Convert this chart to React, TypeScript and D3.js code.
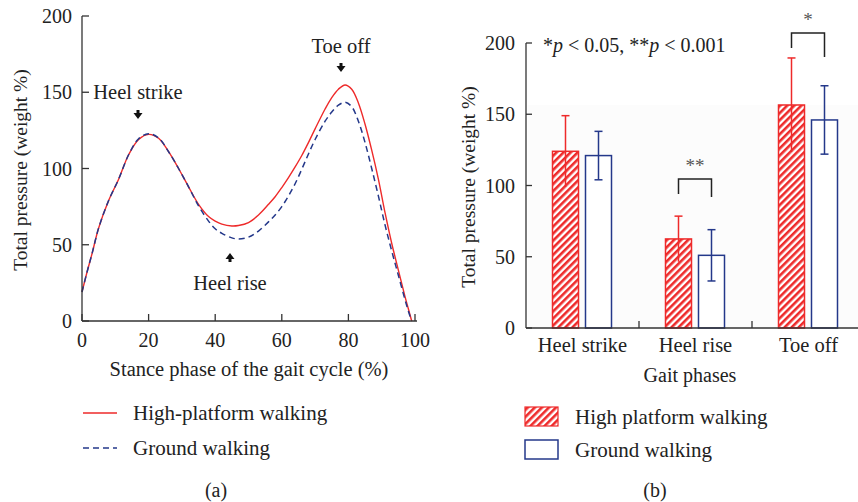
import React from 'react';
import * as d3 from 'd3';

// ---- data ----
const stanceX = [0, 1.5, 3, 5, 8, 11, 14, 17, 20, 23, 26, 29, 32, 35, 38, 40, 42, 45, 47, 50, 53, 56, 58, 60, 62, 64, 66, 68, 70, 73, 75, 77, 79, 81, 83, 85, 87, 89, 91, 93, 95, 97, 98, 99];
const highPlatformCurve = [19, 32, 44, 61, 79, 93, 109, 119, 122.4, 119.8, 111, 100, 88, 76.5, 68.5, 65.5, 63.5, 62.3, 62.6, 64.5, 69.5, 76.5, 81.5, 87.5, 94, 101, 108.5, 117, 126, 139, 146.5, 152, 154.8, 152, 143, 129, 112, 93, 71, 51, 33.4, 16, 8, 0];
const groundCurve = [19, 32, 44, 61, 79, 93, 109, 119.5, 122.8, 120, 111, 100, 88, 75.5, 65.5, 60.5, 57.5, 54.5, 53.8, 55, 59, 65, 69.5, 75, 82, 90, 99.5, 109.5, 119, 131, 137, 141.5, 143.4, 140.5, 131, 117, 100, 82, 63, 46, 30, 14, 6.5, 0];

const phases = ['Heel strike', 'Heel rise', 'Toe off'];
const groups = ['High platform walking', 'Ground walking'];
const highMeans = [124, 62.5, 156.5];
const highSD = [25, 16, 33];
const groundMeans = [121, 51, 146];
const groundSD = [17, 18, 24];

const yTicks = [0, 50, 100, 150, 200];
const xTicks = [0, 20, 40, 60, 80, 100];

const RED = '#ee2a2a';
const BLUE = '#24388a';
const AXIS = '#333';
const INK = '#222';
const FONT = '"Liberation Serif", "Times New Roman", serif';

export default function App() {
  // left panel scales
  const xL = d3.scaleLinear().domain([0, 100]).range([82, 415]);
  const yL = d3.scaleLinear().domain([0, 200]).range([321, 16]);
  const line = d3.line<number>()
    .x((d, i) => xL(stanceX[i]))
    .y(d => yL(d))
    .curve(d3.curveCatmullRom.alpha(0.5));

  // right panel scales
  const xR = d3.scaleBand().domain(phases).range([526, 865]);
  const x1 = d3.scaleBand().domain(groups).range([-30, 29]).paddingInner(0.212);
  const yR = d3.scaleLinear().domain([0, 200]).range([328, 43]);
  const bw = x1.bandwidth();

  const means = [highMeans, groundMeans];
  const sds = [highSD, groundSD];

  const brackets = [
    { phase: 'Heel rise', top: 179, legL: 194, legR: 197, label: '**' },
    { phase: 'Toe off', top: 33, legL: 48, legR: 57, label: '*' },
  ];

  return (
    <svg width={858} height={502} style={{ position: 'absolute', left: 0, top: 0, fontFamily: FONT }}>
      <defs>
        <pattern id="hatch" width={5} height={5} patternUnits="userSpaceOnUse" patternTransform="rotate(45)">
          <rect width={5} height={5} fill="#fff" />
          <rect width={2.6} height={5} fill={RED} />
        </pattern>
      </defs>
      <rect width={858} height={502} fill="#fff" />

      {/* ---------- panel (a) ---------- */}
      <path d={line(highPlatformCurve) || ''} fill="none" stroke={RED} strokeWidth={1.4} />
      <path d={line(groundCurve) || ''} fill="none" stroke={BLUE} strokeWidth={1.5} strokeDasharray="6,4" />

      <line x1={82} x2={82} y1={16} y2={321} stroke={AXIS} strokeWidth={1.3} />
      <line x1={82} x2={417} y1={321} y2={321} stroke={AXIS} strokeWidth={1.3} />
      {yTicks.map(t => (
        <g key={'yl' + t}>
          <line x1={82} x2={89} y1={yL(t)} y2={yL(t)} stroke={AXIS} strokeWidth={1.3} />
          <text x={72} y={yL(t)} dy="0.35em" textAnchor="end" fontSize={20} fill={INK}>{t}</text>
        </g>
      ))}
      {xTicks.map(t => (
        <g key={'xl' + t}>
          <line x1={xL(t)} x2={xL(t)} y1={321} y2={314} stroke={AXIS} strokeWidth={1.3} />
          <text x={xL(t)} y={340} dy="0.35em" textAnchor="middle" fontSize={20} fill={INK}>{t}</text>
        </g>
      ))}
      <text transform="translate(20,170) rotate(-90)" textAnchor="middle" dy="0.35em" fontSize={19.5} fill={INK}>Total pressure (weight %)</text>
      <text x={249} y={369} dy="0.35em" textAnchor="middle" fontSize={20.5} fill={INK}>Stance phase of the gait cycle (%)</text>

      {/* annotations */}
      <text x={138} y={92} dy="0.35em" textAnchor="middle" fontSize={20.5} fill={INK}>Heel strike</text>
      <path d="M138,119 L133.5,113 L136.5,113 L136.5,110 L139.5,110 L139.5,113 L142.5,113 Z" fill="#111" />
      <text x={341} y={46} dy="0.35em" textAnchor="middle" fontSize={20.5} fill={INK}>Toe off</text>
      <path d="M341,72 L336.5,66 L339.5,66 L339.5,63 L342.5,63 L342.5,66 L345.5,66 Z" fill="#111" />
      <text x={230} y={283} dy="0.35em" textAnchor="middle" fontSize={20.5} fill={INK}>Heel rise</text>
      <path d="M230,253 L225.5,259 L228.5,259 L228.5,262 L231.5,262 L231.5,259 L234.5,259 Z" fill="#111" />

      {/* legend (a) */}
      <line x1={83} x2={117} y1={413} y2={413} stroke={RED} strokeWidth={1.5} />
      <text x={133} y={413} dy="0.35em" fontSize={21} fill={INK}>High-platform walking</text>
      <line x1={83} x2={117} y1={448} y2={448} stroke={BLUE} strokeWidth={1.5} strokeDasharray="6,4" />
      <text x={133} y={448} dy="0.35em" fontSize={21} fill={INK}>Ground walking</text>
      <text x={216} y={490} dy="0.35em" textAnchor="middle" fontSize={20} fill={INK}>(a)</text>

      {/* ---------- panel (b) ---------- */}
      <rect x={528} y={105} width={330} height={222} fill="#fcfcfc" />
      {phases.map((p, i) => {
        const c = (xR(p) || 0) + xR.bandwidth() / 2;
        return groups.map((g, k) => {
          const x0 = c + (x1(g) || 0);
          const m = means[k][i];
          const sd = sds[k][i];
          const col = k === 0 ? RED : BLUE;
          const cx = x0 + bw / 2;
          return (
            <g key={p + g}>
              <rect x={x0} y={yR(m)} width={bw} height={yR(0) - yR(m)}
                fill={k === 0 ? 'url(#hatch)' : '#fff'} stroke={col} strokeWidth={1.5} />
              <line x1={cx} x2={cx} y1={yR(m + sd)} y2={yR(m - sd)} stroke={col} strokeWidth={1.5} />
              <line x1={cx - 4} x2={cx + 4} y1={yR(m + sd)} y2={yR(m + sd)} stroke={col} strokeWidth={1.5} />
              {k === 1 && (
                <line x1={cx - 4} x2={cx + 4} y1={yR(m - sd)} y2={yR(m - sd)} stroke={col} strokeWidth={1.5} />
              )}
            </g>
          );
        });
      })}

      <line x1={526} x2={526} y1={43} y2={328} stroke={AXIS} strokeWidth={1.3} />
      <line x1={526} x2={858} y1={328} y2={328} stroke={AXIS} strokeWidth={1.3} />
      {yTicks.map(t => (
        <g key={'yr' + t}>
          <line x1={526} x2={532} y1={yR(t)} y2={yR(t)} stroke={AXIS} strokeWidth={1.3} />
          <text x={515} y={yR(t)} dy="0.35em" textAnchor="end" fontSize={20} fill={INK}>{t}</text>
        </g>
      ))}
      {phases.slice(1).map(p => (
        <line key={'sep' + p} x1={xR(p) || 0} x2={xR(p) || 0} y1={328} y2={321} stroke={AXIS} strokeWidth={1.3} />
      ))}
      {phases.map(p => (
        <text key={'cl' + p} x={(xR(p) || 0) + xR.bandwidth() / 2} y={345} dy="0.35em" textAnchor="middle" fontSize={20.5} fill={INK}>{p}</text>
      ))}
      <text transform="translate(468,187) rotate(-90)" textAnchor="middle" dy="0.35em" fontSize={19.5} fill={INK}>Total pressure (weight %)</text>
      <text x={690} y={375} dy="0.35em" textAnchor="middle" fontSize={20} fill={INK}>Gait phases</text>

      <text x={543} y={45} dy="0.35em" fontSize={20} fill={INK}>
        *<tspan fontStyle="italic">p</tspan> &lt; 0.05, **<tspan fontStyle="italic">p</tspan> &lt; 0.001
      </text>

      {brackets.map(b => {
        const c = (xR(b.phase) || 0) + xR.bandwidth() / 2;
        const l = c + (x1(groups[0]) || 0) + bw / 2;
        const r = c + (x1(groups[1]) || 0) + bw / 2;
        return (
          <g key={'br' + b.phase}>
            <path d={`M${l},${b.legL} L${l},${b.top} L${r},${b.top} L${r},${b.legR}`} fill="none" stroke={INK} strokeWidth={1.5} />
            <text x={(l + r) / 2} y={b.top - 7} textAnchor="middle" fontSize={19} fill="#555">{b.label}</text>
          </g>
        );
      })}

      {/* legend (b) */}
      <rect x={525} y={407} width={33} height={19} fill="url(#hatch)" stroke={RED} strokeWidth={1.2} />
      <text x={575} y={417} dy="0.35em" fontSize={21} fill={INK}>High platform walking</text>
      <rect x={525} y={440} width={33} height={19} fill="#fff" stroke={BLUE} strokeWidth={1.5} />
      <text x={575} y={450} dy="0.35em" fontSize={21} fill={INK}>Ground walking</text>
      <text x={655} y={490} dy="0.35em" textAnchor="middle" fontSize={20} fill={INK}>(b)</text>
    </svg>
  );
}
